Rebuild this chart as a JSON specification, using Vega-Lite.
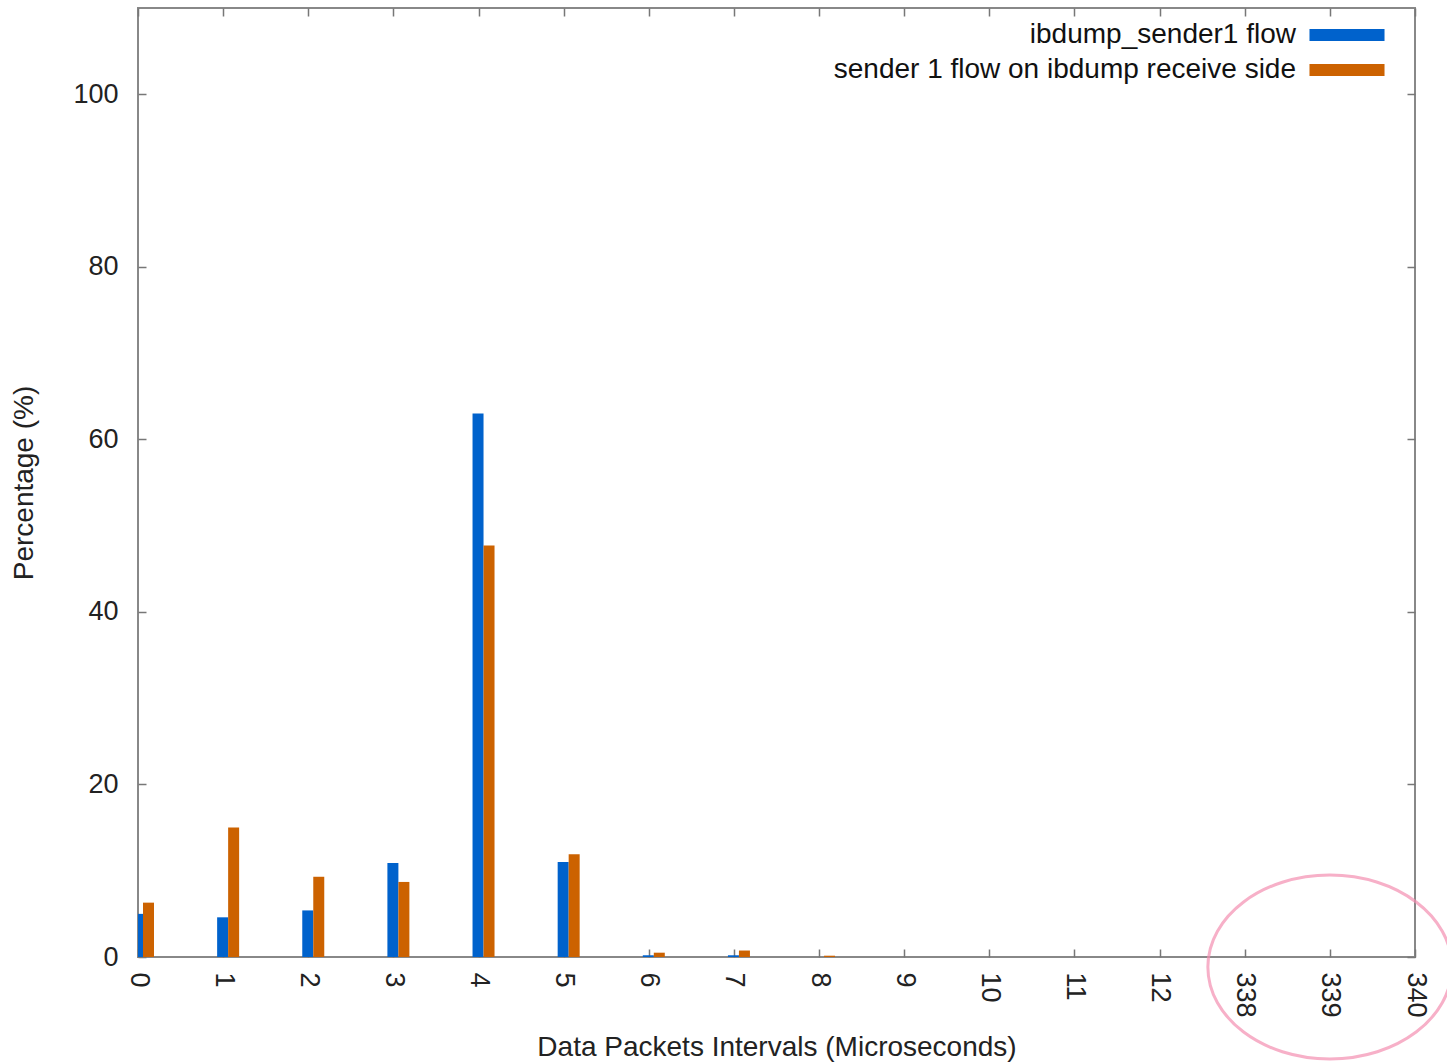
{
  "$schema": "https://vega.github.io/schema/vega-lite/v6.json",
  "width": 1277,
  "height": 949,
  "autosize": {"type": "none"},
  "padding": {"left": 138, "top": 8, "right": 32, "bottom": 106},
  "background": "white",
  "config": {
    "font": "Liberation Sans",
    "view": {"stroke": "#888888", "strokeWidth": 2},
    "axis": {
      "domain": false,
      "grid": false,
      "tickColor": "#777777",
      "tickWidth": 1.5,
      "labelColor": "#222222",
      "titleColor": "#222222",
      "labelFont": "Liberation Sans",
      "titleFont": "Liberation Sans",
      "labelFontSize": 27,
      "titleFontSize": 28,
      "titleFontWeight": "normal"
    },
    "legend": {"labelFont": "Liberation Sans", "labelColor": "#111111"}
  },
  "datasets": {
    "bars": [
      {"interval": "0", "series": "ibdump_sender1 flow", "pct": 5.0},
      {"interval": "1", "series": "ibdump_sender1 flow", "pct": 4.6},
      {"interval": "2", "series": "ibdump_sender1 flow", "pct": 5.4},
      {"interval": "3", "series": "ibdump_sender1 flow", "pct": 10.9},
      {"interval": "4", "series": "ibdump_sender1 flow", "pct": 63.0},
      {"interval": "5", "series": "ibdump_sender1 flow", "pct": 11.0},
      {"interval": "6", "series": "ibdump_sender1 flow", "pct": 0.2},
      {"interval": "7", "series": "ibdump_sender1 flow", "pct": 0.2},
      {"interval": "8", "series": "ibdump_sender1 flow", "pct": 0.0},
      {"interval": "9", "series": "ibdump_sender1 flow", "pct": 0.0},
      {"interval": "10", "series": "ibdump_sender1 flow", "pct": 0.0},
      {"interval": "11", "series": "ibdump_sender1 flow", "pct": 0.0},
      {"interval": "12", "series": "ibdump_sender1 flow", "pct": 0.0},
      {"interval": "338", "series": "ibdump_sender1 flow", "pct": 0.0},
      {"interval": "339", "series": "ibdump_sender1 flow", "pct": 0.0},
      {"interval": "340", "series": "ibdump_sender1 flow", "pct": 0.0},
      {"interval": "0", "series": "sender 1 flow on ibdump receive side", "pct": 6.3},
      {"interval": "1", "series": "sender 1 flow on ibdump receive side", "pct": 15.0},
      {"interval": "2", "series": "sender 1 flow on ibdump receive side", "pct": 9.3},
      {"interval": "3", "series": "sender 1 flow on ibdump receive side", "pct": 8.7},
      {"interval": "4", "series": "sender 1 flow on ibdump receive side", "pct": 47.7},
      {"interval": "5", "series": "sender 1 flow on ibdump receive side", "pct": 11.9},
      {"interval": "6", "series": "sender 1 flow on ibdump receive side", "pct": 0.5},
      {"interval": "7", "series": "sender 1 flow on ibdump receive side", "pct": 0.75},
      {"interval": "8", "series": "sender 1 flow on ibdump receive side", "pct": 0.15},
      {"interval": "9", "series": "sender 1 flow on ibdump receive side", "pct": 0.0},
      {"interval": "10", "series": "sender 1 flow on ibdump receive side", "pct": 0.0},
      {"interval": "11", "series": "sender 1 flow on ibdump receive side", "pct": 0.0},
      {"interval": "12", "series": "sender 1 flow on ibdump receive side", "pct": 0.0},
      {"interval": "338", "series": "sender 1 flow on ibdump receive side", "pct": 0.0},
      {"interval": "339", "series": "sender 1 flow on ibdump receive side", "pct": 0.0},
      {"interval": "340", "series": "sender 1 flow on ibdump receive side", "pct": 0.0}
    ]
  },
  "layer": [
    {
      "data": {"name": "bars"},
      "transform": [{"filter": "datum.series === 'ibdump_sender1 flow'"}],
      "mark": {"type": "bar", "width": 11, "xOffset": -0.5, "clip": true},
      "encoding": {
        "x": {
          "field": "interval", "type": "ordinal",
          "sort": ["0","1","2","3","4","5","6","7","8","9","10","11","12","338","339","340"],
          "scale": {"type": "point", "padding": 0},
          "axis": {"orient": "bottom", "title": "Data Packets Intervals (Microseconds)", "labelAngle": 90, "tickSize": -8, "labelPadding": 23, "titlePadding": 16}
        },
        "y": {
          "field": "pct", "type": "quantitative",
          "scale": {"domain": [0, 110], "nice": false, "zero": true},
          "axis": {"orient": "left", "title": "Percentage (%)", "values": [0,20,40,60,80,100], "tickSize": -8, "labelPadding": 28, "titlePadding": 34}
        },
        "color": {
          "field": "series", "type": "nominal",
          "scale": {"domain": ["ibdump_sender1 flow", "sender 1 flow on ibdump receive side"], "range": ["#0062cc", "#cc6200"]},
          "legend": {
            "orient": "none", "legendX": 1195, "legendY": 13, "title": null,
            "symbolType": "M-4,-0.64H4V0.64H-4Z", "symbolSize": 352, "symbolStrokeWidth": 0,
            "labelFontSize": 28, "labelAlign": "right", "labelOffset": -65, "rowPadding": 7, "labelLimit": 800
          }
        }
      }
    },
    {
      "data": {"name": "bars"},
      "transform": [{"filter": "datum.series === 'sender 1 flow on ibdump receive side'"}],
      "mark": {"type": "bar", "width": 11, "xOffset": 10.5, "clip": true},
      "encoding": {
        "x": {
          "field": "interval", "type": "ordinal",
          "sort": ["0","1","2","3","4","5","6","7","8","9","10","11","12","338","339","340"],
          "scale": {"type": "point", "padding": 0},
          "axis": {"orient": "top", "title": null, "labels": false, "tickSize": -8}
        },
        "y": {
          "field": "pct", "type": "quantitative",
          "scale": {"domain": [0, 110], "nice": false, "zero": true},
          "axis": {"orient": "right", "title": null, "labels": false, "values": [0,20,40,60,80,100], "tickSize": -8}
        },
        "color": {"field": "series", "type": "nominal"}
      }
    },
    {
      "data": {"values": [{}]},
      "mark": {"type": "point", "shape": "M-1,0A1,0.754 0 1,0 1,0A1,0.754 0 1,0 -1,0Z", "size": 59536, "filled": false, "stroke": "#f48fb1", "strokeWidth": 3, "yOffset": 10, "clip": false},
      "encoding": {
        "x": {"datum": "339", "type": "ordinal", "axis": null},
        "y": {"datum": 0, "type": "quantitative", "axis": null}
      }
    }
  ],
  "resolve": {"axis": {"x": "independent", "y": "independent"}}
}
